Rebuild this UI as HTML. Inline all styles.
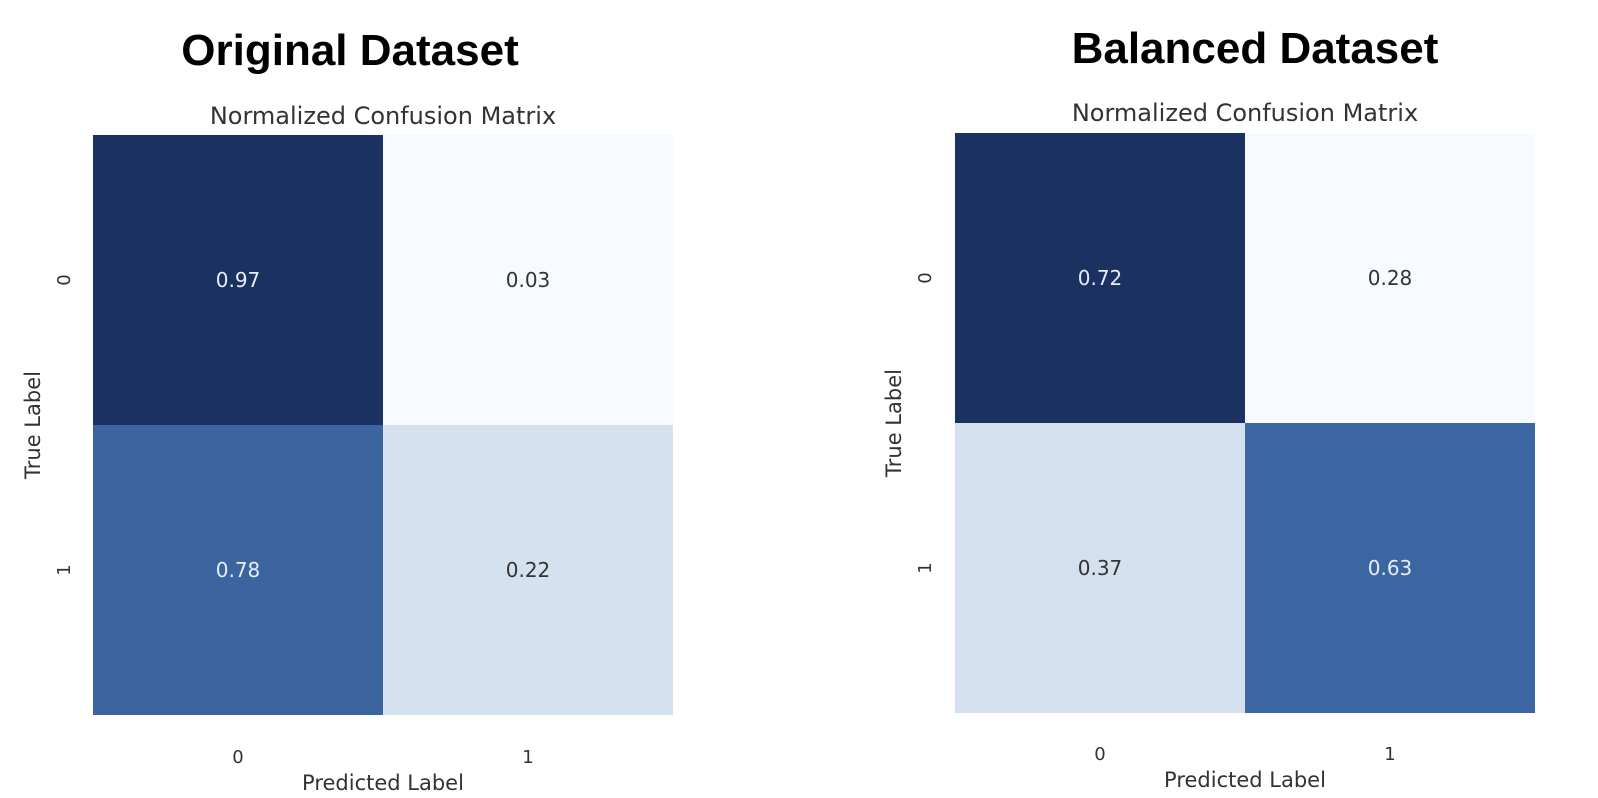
<!DOCTYPE html>
<html><head><meta charset="utf-8"><style>
body{margin:0;background:#fff;width:1598px;height:798px;overflow:hidden}
svg{display:block}
</style></head><body>
<svg id="c" width="1598" height="798" xmlns="http://www.w3.org/2000/svg">
<text x="350" y="65" text-anchor="middle" font-family="Liberation Sans, sans-serif" font-weight="bold" font-size="44">Original Dataset</text>
<text x="1255" y="63" text-anchor="middle" font-family="Liberation Sans, sans-serif" font-weight="bold" font-size="44">Balanced Dataset</text>
</svg>
<script>
const categories = ["0", "1"];
const originalValues = [[0.97, 0.03], [0.78, 0.22]];
const balancedValues = [[0.72, 0.28], [0.37, 0.63]];
const panels = [
  {name:"original", values: originalValues, x0:93, y0:135, size:580, titleY:124, tickY:763, xlabY:790, ytickX:70, ylabX:40},
  {name:"balanced", values: balancedValues, x0:955, y0:133, size:580, titleY:121, tickY:760, xlabY:787, ytickX:931, ylabX:901}
];
const svg = document.getElementById('c');
const NS = "http://www.w3.org/2000/svg";
function cmap(t){
  const s=[[0,[247,250,255]],[0.2,[213,225,239]],[0.8,[59,101,160]],[1,[27,49,97]]];
  for(let i=1;i<s.length;i++){ if(t<=s[i][0]){const a=s[i-1],b=s[i];const f=(t-a[0])/(b[0]-a[0]);
    return 'rgb('+a[1].map((c,k)=>Math.round(c+(b[1][k]-c)*f)).join(',')+')';}}
  return 'rgb(27,49,97)';
}
function mk(tag,attrs,txt){const e=document.createElementNS(NS,tag);for(const k in attrs)e.setAttribute(k,attrs[k]);if(txt!==undefined)e.textContent=txt;svg.appendChild(e);return e;}
panels.forEach(p=>{
  const n=categories.length, cs=p.size/n;
  const flat=p.values.flat(); const mn=Math.min(...flat), mx=Math.max(...flat);
  const xs=j=>p.x0+j*cs, ys=i=>p.y0+i*cs;
  p.values.forEach((row,i)=>row.forEach((v,j)=>{
    const t=(v-mn)/(mx-mn);
    const r=mk('rect',{x:xs(j),y:ys(i),width:cs,height:cs,fill:cmap(t)});
    
    
    const tx=mk('text',{x:xs(j)+cs/2,y:ys(i)+cs/2+7,'text-anchor':'middle','font-family':'DejaVu Sans, sans-serif','font-size':20,fill:t>0.5?'#e8ecf4':'#333'},v.toFixed(2));
    
    
  }));
  const ti=mk('text',{x:p.x0+p.size/2,y:p.titleY,'text-anchor':'middle','font-family':'DejaVu Sans, sans-serif','font-size':24,fill:'#333'},'Normalized Confusion Matrix');
  
  
  categories.forEach((c,k)=>{
    const xt=mk('text',{x:xs(k)+cs/2,y:p.tickY,'text-anchor':'middle','font-family':'DejaVu Sans, sans-serif','font-size':18,fill:'#333'},c);
    
    
    const cy=ys(k)+cs/2;
    const yt=mk('text',{x:p.ytickX,y:cy,'text-anchor':'middle','font-family':'DejaVu Sans, sans-serif','font-size':18,fill:'#333',transform:'rotate(-90 '+p.ytickX+' '+cy+')'},c);
    
    
  });
  const xl=mk('text',{x:p.x0+p.size/2,y:p.xlabY,'text-anchor':'middle','font-family':'DejaVu Sans, sans-serif','font-size':21,fill:'#333'},'Predicted Label');
  
  
  const my=p.y0+p.size/2;
  const yl=mk('text',{x:p.ylabX,y:my,'text-anchor':'middle','font-family':'DejaVu Sans, sans-serif','font-size':21,fill:'#333',transform:'rotate(-90 '+p.ylabX+' '+my+')'},'True Label');
  
  
});
</script>
</body></html>
